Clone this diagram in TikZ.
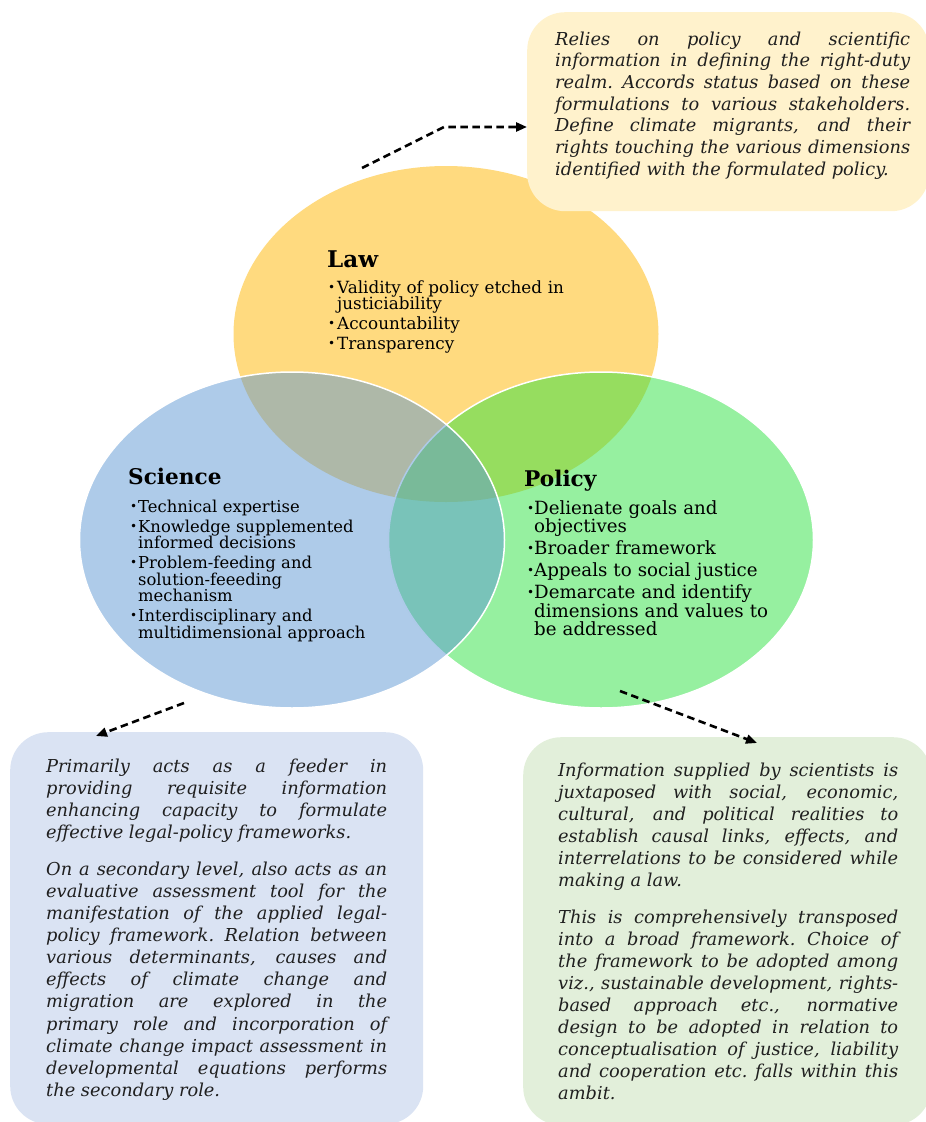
\documentclass[tikz,border=0pt]{standalone}
\usepackage{fontspec}
\setmainfont{DejaVu Serif}
\usetikzlibrary{arrows.meta,shapes.geometric,calc}
\definecolor{lawbase}{RGB}{255,181,0}
\definecolor{polbase}{RGB}{45,225,65}
\definecolor{scibase}{RGB}{93,151,211}
\definecolor{lawbg}{RGB}{255,242,204}
\definecolor{scibg}{RGB}{218,227,243}
\definecolor{polbg}{RGB}{226,239,218}
\newlength\bw
\newlength\bxw
\newcommand\bl[1]{\hangindent=\bw\hangafter=1\noindent\makebox[\bw][l]{\raisebox{1.8pt}{\fontsize{12}{12}\selectfont •}}#1\par}
\newcommand\jl[1]{\noindent\hbox to \bxw{#1}\par}
\newcommand\lastl[1]{\noindent #1\par}
\newcommand\boxsetup[1]{\setlength\bxw{#1}\spaceskip=0.318em plus 3em minus 0.1em\xspaceskip=\spaceskip}
\begin{document}
\begin{tikzpicture}[x=1pt,y=-1pt,
  venn/.style={ellipse, inner sep=0pt, minimum width=425pt, minimum height=336pt, fill opacity=0.5},
  head/.style={anchor=base west, inner sep=0pt, font=\bfseries\fontsize{21.6}{21.6}\selectfont},
  blist/.style={anchor=base west, inner sep=0pt, text width=330pt},
  bgbox/.style={rounded corners=38pt, inner sep=0pt, anchor=north west},
  btext/.style={anchor=base west, inner sep=0pt, text=black!88},
  conn/.style={dash pattern=on 7.5pt off 4.5pt, line width=2.6pt, -{Triangle[length=11pt,width=9pt]}}
]
\useasboundingbox (0,0) rectangle (926,1122);
\clip (0,0) rectangle (926,1122);

% Venn ellipses
\node[venn, fill=lawbase] (law) at (446,334) {};
\node[venn, fill=polbase, draw=white, line width=1.5pt] (pol) at (601,540) {};
\node[venn, fill=scibase, draw=white, line width=1.5pt] (sci) at (292,540) {};

% headings
\node[head, font=\bfseries\fontsize{23}{23}\selectfont] (lawh) at (327,267) {Law};
\node[head] (scih) at (128,484) {Science};
\node[head] (polh) at (524,486) {Policy};

% bullet lists
\node[blist, font=\fontsize{16.8}{16.5}\selectfont] (lawlist) at (328,293)
  {\setlength\bw{9pt}\setlength\parskip{3.5pt}%
   \bl{Validity of policy etched in\newline justiciability}%
   \bl{Accountability}%
   \bl{Transparency}};
\node[blist, font=\fontsize{16.4}{16.5}\selectfont] (scilist) at (130,512)
  {\setlength\bw{8pt}\setlength\parskip{3.5pt}%
   \bl{Technical expertise}%
   \bl{Knowledge supplemented\newline informed decisions}%
   \bl{Problem-feeding and\newline solution-feeeding\newline mechanism}%
   \bl{Interdisciplinary and\newline multidimensional approach}};
\node[blist, font=\fontsize{18.2}{18.5}\selectfont] (pollist) at (527,514)
  {\setlength\bw{7pt}\setlength\parskip{3.5pt}%
   \bl{Delienate goals and\newline objectives}%
   \bl{Broader framework}%
   \bl{Appeals to social justice}%
   \bl{Demarcate and identify\newline dimensions and values to\newline be addressed}};

% text boxes
\node[bgbox, fill=lawbg, minimum width=402pt, minimum height=199pt] (lawbox) at (527,12) {};
\node[bgbox, fill=scibg, minimum width=413pt, minimum height=392pt] (scibox) at (10,732) {};
\node[bgbox, fill=polbg, minimum width=408pt, minimum height=388pt] (polbox) at (523,737) {};

\node[btext, text width=355pt, font=\itshape\fontsize{17.8}{21.67}\selectfont] (lawtxt) at (555,45)
  {\boxsetup{355pt}%
   \jl{Relies on policy and scientific}%
   \jl{information in defining the right-duty}%
   \jl{realm. Accords status based on these}%
   \jl{formulations to various stakeholders.}%
   \jl{Define climate migrants, and their}%
   \jl{rights touching the various dimensions}%
   \lastl{identified with the formulated policy.}};

\node[btext, text width=341pt, font=\itshape\fontsize{17.8}{22.1}\selectfont] (scitxt) at (46,772)
  {\boxsetup{341pt}%
   \jl{Primarily acts as a feeder in}%
   \jl{providing requisite information}%
   \jl{enhancing capacity to formulate}%
   \lastl{effective legal-policy frameworks.}%
   \vspace{14.9pt}%
   \jl{On a secondary level, also acts as an}%
   \jl{evaluative assessment tool for the}%
   \jl{manifestation of the applied legal-}%
   \jl{policy framework. Relation between}%
   \jl{various determinants, causes and}%
   \jl{effects of climate change and}%
   \jl{migration are explored in the}%
   \jl{primary role and incorporation of}%
   \jl{climate change impact assessment in}%
   \jl{developmental equations performs}%
   \lastl{the secondary role.}};

\node[btext, text width=340pt, font=\itshape\fontsize{17.8}{22.1}\selectfont] (poltxt) at (558,776)
  {\boxsetup{340pt}%
   \jl{Information supplied by scientists is}%
   \jl{juxtaposed with social, economic,}%
   \jl{cultural, and political realities to}%
   \jl{establish causal links, effects, and}%
   \jl{interrelations to be considered while}%
   \lastl{making a law.}%
   \vspace{14.5pt}%
   \jl{This is comprehensively transposed}%
   \jl{into a broad framework. Choice of}%
   \jl{the framework to be adopted among}%
   \jl{viz., sustainable development, rights-}%
   \jl{based approach etc., normative}%
   \jl{design to be adopted in relation to}%
   \jl{conceptualisation of justice, liability}%
   \jl{and cooperation etc. falls within this}%
   \lastl{ambit.}};

% connectors
\coordinate (la1) at (362,168);
\coordinate (la2) at (444,127);
\draw[conn] (la1) -- (la2) -- (la2 -| lawbox.west);
\coordinate (sa1) at (184,703);
\coordinate (sa2) at ($(scibox.north west)+(86,4)$);
\draw[conn] (sa1) -- (sa2);
\coordinate (pa1) at (620,691);
\coordinate (pa2) at ($(polbox.north west)+(234,6)$);
\draw[conn] (pa1) -- (pa2);
\end{tikzpicture}
\end{document}
